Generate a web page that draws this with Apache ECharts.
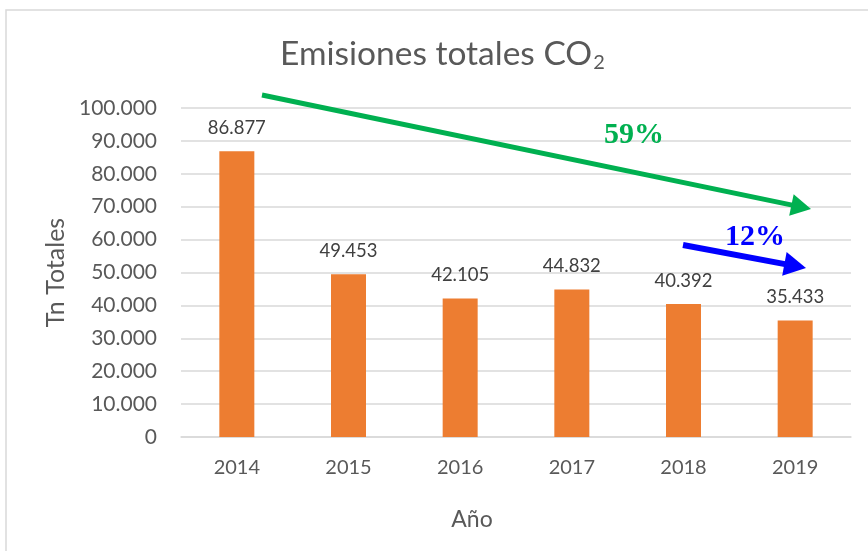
<!DOCTYPE html>
<html>
<head>
<meta charset="utf-8">
<script src="https://cdn.jsdelivr.net/npm/echarts@6/dist/echarts.min.js"></script>
<style>
  html, body { margin: 0; padding: 0; background: #fff; }
  #main { width: 868px; height: 551px; }
</style>
</head>
<body>
<div id="main"></div>
<script>
// datos
const years = ['2014', '2015', '2016', '2017', '2018', '2019']
const emisiones = [86877, 49453, 42105, 44832, 40392, 35433]
const yTicks = [0, 10000, 20000, 30000, 40000, 50000, 60000, 70000, 80000, 90000, 100000]
const reducciones = [
  { text: '59%', color: '#00B050', from: [262, 95], to: [811, 209], label: [634, 135] },
  { text: '12%', color: '#0000FF', from: [683, 245], to: [806, 268], label: [755, 237] }
]

const fmt = v => String(v).replace(/\B(?=(\d{3})+(?!\d))/g, '.')
const font = 'Lato, "Open Sans", sans-serif'

// flecha = linea + punta triangular
function arrow(a, lw, head) {
  const dx = a.to[0] - a.from[0], dy = a.to[1] - a.from[1]
  const len = Math.sqrt(dx * dx + dy * dy)
  const ux = dx / len, uy = dy / len
  const bx = a.to[0] - ux * head, by = a.to[1] - uy * head
  const w = head * 0.55
  return [
    {
      type: 'line',
      shape: { x1: a.from[0], y1: a.from[1], x2: bx + ux * 2, y2: by + uy * 2 },
      style: { stroke: a.color, lineWidth: lw },
      z: 100
    },
    {
      type: 'polygon',
      shape: { points: [a.to, [bx - uy * w, by + ux * w], [bx + uy * w, by - ux * w]] },
      style: { fill: a.color },
      z: 100
    },
    {
      type: 'text',
      x: a.label[0], y: a.label[1],
      style: {
        text: a.text, fill: a.color, align: 'center', verticalAlign: 'middle',
        font: 'bold 30px "Liberation Serif", "DejaVu Serif", serif'
      },
      z: 100
    }
  ]
}

const myChart = echarts.init(document.getElementById('main'))
myChart.setOption({
  animation: false,
  backgroundColor: '#fff',
  textStyle: { fontFamily: font },
  title: {
    text: '{m|Emisiones totales CO}{sub|2}',
    left: 275,
    top: 32,
    textStyle: {
      fontWeight: 'normal',
      rich: {
        m: { fontFamily: font, fontSize: 33.5, fontWeight: 'normal', color: '#595959', lineHeight: 36, verticalAlign: 'top' },
        sub: { fontFamily: font, fontSize: 20, fontWeight: 'normal', color: '#595959', lineHeight: 20, verticalAlign: 'bottom', padding: [24, 0, 0, 1] }
      }
    }
  },
  grid: { left: 181, right: 17, top: 108, bottom: 114 },
  xAxis: {
    type: 'category',
    data: years,
    name: 'Año',
    nameLocation: 'middle',
    nameGap: 71,
    nameTextStyle: { fontSize: 23, color: '#595959', fontFamily: font, padding: [0, 88, 0, 0] },
    axisLine: { show: true, lineStyle: { color: '#d9d9d9', width: 1.5 } },
    axisTick: { show: false },
    axisLabel: { fontSize: 20, color: '#595959', margin: 21, fontFamily: font }
  },
  yAxis: {
    type: 'value',
    min: yTicks[0],
    max: yTicks[yTicks.length - 1],
    interval: yTicks[1] - yTicks[0],
    name: 'Tn Totales',
    nameLocation: 'middle',
    nameGap: 113,
    nameTextStyle: { fontSize: 25, color: '#595959', fontFamily: font },
    axisLine: { show: false },
    axisTick: { show: false },
    axisLabel: { fontSize: 21, color: '#595959', margin: 24, fontFamily: font, formatter: fmt },
    splitLine: { lineStyle: { color: '#d9d9d9', width: 1.5 } }
  },
  series: [
    {
      name: 'Emisiones',
      type: 'bar',
      data: emisiones,
      barWidth: 35,
      itemStyle: { color: '#ED7D31' },
      label: {
        show: true,
        position: 'top',
        distance: 14,
        fontSize: 18.5,
        color: '#404040',
        fontFamily: font,
        formatter: p => fmt(p.value)
      }
    }
  ],
  graphic: [
    {
      type: 'rect',
      shape: { x: 6, y: 10, width: 880, height: 560 },
      style: { fill: 'none', stroke: '#d9d9d9', lineWidth: 1.5 },
      silent: true
    },
    ...arrow(reducciones[0], 5, 20),
    ...arrow(reducciones[1], 6, 22)
  ]
})
</script>
</body>
</html>
